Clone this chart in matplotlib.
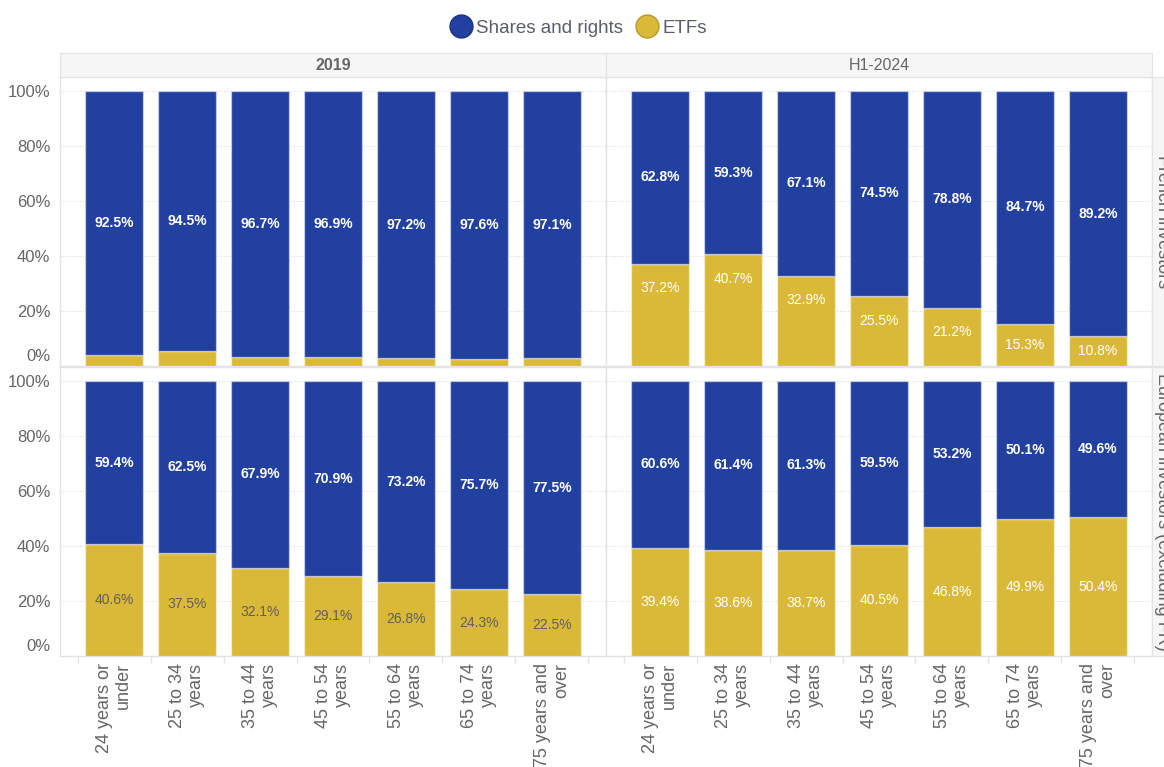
import numpy as np
import matplotlib.pyplot as plt
from matplotlib.lines import Line2D
from matplotlib.transforms import ScaledTranslation

plt.rcParams['font.family'] = ['Liberation Sans', 'DejaVu Sans']

age_groups = ["24 years or\nunder", "25 to 34\nyears", "35 to 44\nyears", "45 to 54\nyears",
              "55 to 64\nyears", "65 to 74\nyears", "75 years and\nover"]
periods = ["2019", "H1-2024"]
investor_groups = ["French investors", "European investors (excluding FR)"]

shares_fr_2019 = [92.5, 94.5, 96.7, 96.9, 97.2, 97.6, 97.1]
etfs_fr_2019 = [3.9, 5.5, 3.3, 3.1, 2.8, 2.4, 2.9]
shares_fr_2024 = [62.8, 59.3, 67.1, 74.5, 78.8, 84.7, 89.2]
etfs_fr_2024 = [37.2, 40.7, 32.9, 25.5, 21.2, 15.3, 10.8]
shares_eu_2019 = [59.4, 62.5, 67.9, 70.9, 73.2, 75.7, 77.5]
etfs_eu_2019 = [40.6, 37.5, 32.1, 29.1, 26.8, 24.3, 22.5]
shares_eu_2024 = [60.6, 61.4, 61.3, 59.5, 53.2, 50.1, 49.6]
etfs_eu_2024 = [39.4, 38.6, 38.7, 40.5, 46.8, 49.9, 50.4]

BLUE = "#22409f"
YELLOW = "#dbb938"
GRAY = "#666666"
LINE = "#e3e3e3"

W, H = 1164, 767
fig = plt.figure(figsize=(W / 100, H / 100), dpi=100)

# pixel layout of the facet grid
col_x = [60, 606]
col_w = 546
row_y = [77, 367]
row_h = 289

# (shares, etfs, ETF label colour, ETF label anchored near the top?)
panels = {
    (0, 0): (shares_fr_2019, etfs_fr_2019, "white", False),
    (0, 1): (shares_fr_2024, etfs_fr_2024, "white", True),
    (1, 0): (shares_eu_2019, etfs_eu_2019, "#606060", False),
    (1, 1): (shares_eu_2024, etfs_eu_2024, "white", False),
}

x = np.arange(len(age_groups))
for (r, c), (sh, et, etf_col, top_anchor) in panels.items():
    ax = fig.add_axes([col_x[c] / W, 1 - (row_y[r] + row_h) / H, col_w / W, row_h / H])
    sh = np.array(sh)
    et = np.array(et)
    tot = sh + et
    etf_h = et / tot * 100
    sh_h = sh / tot * 100
    ax.bar(x, etf_h, width=0.8, color=YELLOW, edgecolor=(1, 1, 1, 0.45), linewidth=1, zorder=3)
    ax.bar(x, sh_h, bottom=etf_h, width=0.8, color=BLUE, edgecolor=(1, 1, 1, 0.45),
           linewidth=1, zorder=3)
    for i in x:
        ax.text(i, etf_h[i] + sh_h[i] / 2, f"{sh[i]:.1f}%", ha="center", va="center",
                color="white", fontsize=10, fontweight="bold", zorder=4)
        if et[i] > 8:
            ly = etf_h[i] / 2
            if top_anchor:
                ly = max(ly, etf_h[i] - 9)
            ax.text(i, ly, f"{et[i]:.1f}%", ha="center", va="center",
                    color=etf_col, fontsize=10, zorder=4)

    ax.set_xlim(-0.74, 6.74)
    ax.set_ylim(0, 105.1)
    ax.set_yticks(np.arange(0, 101, 20))
    ax.grid(axis="y", color="#dcdcdc", linestyle=(0, (1, 1.5)), linewidth=0.8, zorder=0)
    for s in ax.spines.values():
        s.set_color(LINE)
        s.set_linewidth(1)
    ax.tick_params(axis="y", length=0, pad=7, labelsize=12, labelcolor=GRAY)
    if c == 0:
        ax.set_yticklabels([f"{v}%" for v in range(0, 101, 20)])
        for lab in ax.get_yticklabels():
            if lab.get_text() == "0%":
                lab.set_transform(lab.get_transform() +
                                  ScaledTranslation(0, 0.11, fig.dpi_scale_trans))
    else:
        ax.set_yticklabels([])

    ax.set_xticks(x)
    ax.set_xticks(np.arange(-0.5, 7, 1), minor=True)
    ax.tick_params(axis="x", which="minor", length=5, color=LINE, width=1)
    ax.tick_params(axis="x", which="major", length=0)
    if r == 1:
        ax.set_xticklabels(age_groups, rotation=90, fontsize=13, color=GRAY,
                           ha="center", va="top", multialignment="right")
        ax.tick_params(axis="x", which="major", pad=5)
    else:
        ax.set_xticklabels([])

# column headers
for c, name in enumerate(periods):
    hx = fig.add_axes([col_x[c] / W, 1 - 77 / H, col_w / W, 24 / H])
    hx.set_facecolor("#f6f6f6")
    hx.set_xticks([])
    hx.set_yticks([])
    for s in hx.spines.values():
        s.set_color(LINE)
    hx.text(0.5, 0.5, name, ha="center", va="center", fontsize=11.5, color=GRAY,
            fontweight="bold" if c == 0 else "normal", transform=hx.transAxes)

# row strips on the right (cut by the figure edge, as in the source)
for r, name in enumerate(investor_groups):
    sx = fig.add_axes([1152 / W, 1 - (row_y[r] + row_h) / H, 24 / W, row_h / H])
    sx.set_facecolor("#f6f6f6")
    sx.set_xticks([])
    sx.set_yticks([])
    for s in sx.spines.values():
        s.set_color(LINE)
    sx.text(0.42, 0.5, name, ha="center", va="center", rotation=270, fontsize=13,
            color=GRAY, transform=sx.transAxes)

handles = [Line2D([], [], marker="o", linestyle="none", markersize=16.5,
                  markerfacecolor=BLUE, markeredgecolor="#1b3380", markeredgewidth=1),
           Line2D([], [], marker="o", linestyle="none", markersize=16.5,
                  markerfacecolor=YELLOW, markeredgecolor="#b89a2c", markeredgewidth=1)]
fig.legend(handles, ["Shares and rights", "ETFs"], loc="center",
           bbox_to_anchor=(579 / W, 1 - 28 / H), ncol=2, frameon=False, fontsize=13.5,
           handlelength=1.0, handletextpad=0.3, columnspacing=0.8, labelcolor="#5a5e6a")

fig.savefig("out.png", dpi=100)
